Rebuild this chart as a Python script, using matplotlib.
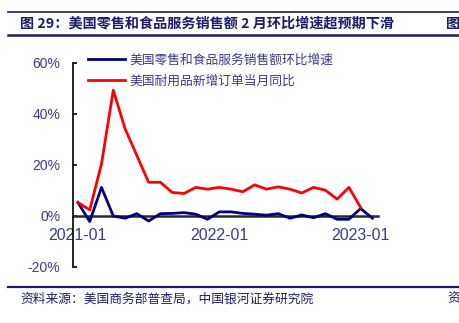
import numpy as np
import matplotlib
matplotlib.use("Agg")
import matplotlib.pyplot as plt
from matplotlib.lines import Line2D

plt.rcParams["font.family"] = ["Liberation Sans", "Noto Sans CJK SC"]

# monthly index, 2021-01 = 0
retail_mom = [5.3, -2.2, 11.2, 0.0, -0.9, 0.9, -2.0, 0.9, 1.0, 1.3, 0.7, -1.3,
              1.6, 1.6, 1.0, 0.7, 0.3, 0.9, -0.9, 0.4, -0.7, 0.9, -1.3, -1.3,
              2.9, -0.9]
durable_yoy = [5.3, 2.4, 20.4, 49.3, 34.2, 23.7, 13.2, 13.2, 9.2, 8.8, 11.2, 10.5,
               11.2, 10.5, 9.5, 12.2, 10.5, 11.4, 10.5, 9.0, 11.2, 10.1, 6.6, 11.2,
               3.3]
tick_pos = [0, 12, 24]
tick_labels = ["2021-01", "2022-01", "2023-01"]
y_ticks = [-20, 0, 20, 40, 60]

NAVY = "#1c1c6e"
LABEL = "#3a3a8c"

fig = plt.figure(figsize=(4.59, 3.23), dpi=100)
ax = fig.add_axes([0.159, 0.1734, 0.664, 0.632])

ax.plot(np.arange(len(retail_mom)), retail_mom, color="#000080", lw=2,
        label="美国零售和食品服务销售额环比增速", zorder=3)
ax.plot(np.arange(len(durable_yoy)), durable_yoy, color="#ff0000", lw=2,
        label="美国耐用品新增订单当月同比", zorder=3)

ax.set_xlim(-0.42, 25.45)
ax.set_ylim(-20, 60)
ax.set_yticks(y_ticks)
ax.set_yticklabels([f"{v}%" for v in y_ticks])
ax.set_xticks(tick_pos)
ax.set_xticklabels(tick_labels)

for s in ["top", "right"]:
    ax.spines[s].set_visible(False)
ax.spines["bottom"].set_position(("data", 0))
ax.spines["bottom"].set_color("#2a2a2a")
ax.spines["bottom"].set_linewidth(1.8)
ax.spines["bottom"].set_zorder(2)
ax.spines["left"].set_color("#111111")
ax.spines["left"].set_linewidth(1.3)

ax.tick_params(axis="y", direction="in", length=3, width=1.2, pad=9,
               labelsize=10, labelcolor=LABEL)
ax.tick_params(axis="x", direction="in", length=0, pad=9,
               labelsize=11.5, labelcolor=LABEL)

leg = ax.legend(loc="upper left", bbox_to_anchor=(0.01, 1.1), frameon=False,
                handlelength=2.9, handletextpad=0.35, labelspacing=0.6,
                prop={"family": "Noto Sans CJK SC", "size": 9.2})
for t in leg.get_texts():
    t.set_color(LABEL)

# header and footer rules
for y, lw in [(1 - 12 / 323, 1.2), (1 - 35 / 323, 1.8), (1 - 287 / 323, 1.6)]:
    fig.add_artist(Line2D([8 / 459, 1], [y, y], color=NAVY, lw=lw,
                          transform=fig.transFigure))

fig.text(20 / 459, 1 - 24 / 323, "图 29：美国零售和食品服务销售额 2 月环比增速超预期下滑",
         family="Noto Sans CJK SC", weight="bold", fontsize=10.2, color=NAVY,
         va="center", ha="left")
fig.text(446 / 459, 1 - 24 / 323, "图", family="Noto Sans CJK SC", weight="bold",
         fontsize=10.2, color=NAVY, va="center", ha="left")
fig.text(20 / 459, 1 - 299 / 323, "资料来源：美国商务部普查局，中国银河证券研究院",
         family="Noto Sans CJK SC", fontsize=9.2, color=NAVY, va="center",
         ha="left", style="italic")
fig.text(447 / 459, 1 - 299 / 323, "资", family="Noto Sans CJK SC", fontsize=9.2,
         color=NAVY, va="center", ha="left", style="italic")

fig.savefig("out.png", dpi=100)
